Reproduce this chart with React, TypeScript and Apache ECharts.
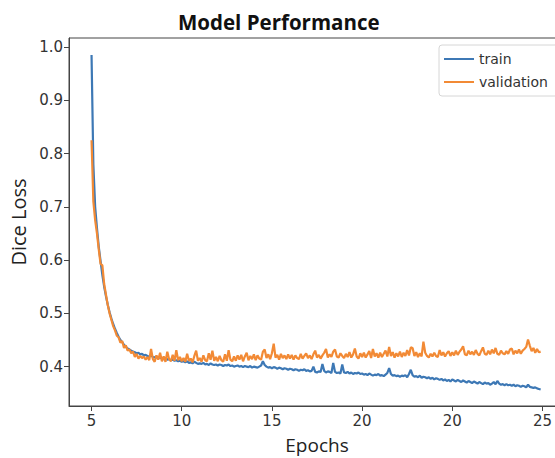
import React, { useEffect, useRef } from "react";
import * as echarts from "echarts";

const xTickValues = [0, 50, 100, 150, 200, 250];
const xTickLabels = ["5", "10", "15", "20", "20", "25"];
const yTickValues = [0.4, 0.5, 0.6, 0.7, 0.8, 0.9, 1.0];

const train = [
  0.985, 0.78, 0.70, 0.66, 0.625, 0.598, 0.572, 0.55, 0.532, 0.516,
  0.502, 0.49, 0.48, 0.471, 0.463, 0.456, 0.45, 0.446, 0.441, 0.437,
  0.434, 0.432, 0.43, 0.428, 0.427, 0.425, 0.426, 0.423, 0.424, 0.421,
  0.422, 0.42, 0.419, 0.421, 0.418, 0.417, 0.419, 0.416, 0.417, 0.415,
  0.414, 0.416, 0.413, 0.414, 0.412, 0.413, 0.411, 0.412, 0.41, 0.411,
  0.409, 0.41, 0.408, 0.41, 0.407, 0.408, 0.406, 0.409, 0.407, 0.405,
  0.406, 0.405, 0.407, 0.404, 0.405, 0.403, 0.406, 0.404, 0.403, 0.404,
  0.402, 0.404, 0.403, 0.401, 0.403, 0.402, 0.404, 0.401, 0.402, 0.40,
  0.401, 0.402, 0.40, 0.401, 0.399, 0.401, 0.40, 0.399, 0.401, 0.398,
  0.40, 0.399, 0.398, 0.40, 0.402, 0.41, 0.403, 0.40, 0.398, 0.399,
  0.397, 0.399, 0.398, 0.396, 0.398, 0.397, 0.395, 0.397, 0.396, 0.394,
  0.396, 0.395, 0.393, 0.395, 0.394, 0.392, 0.394, 0.393, 0.395, 0.392,
  0.393, 0.391, 0.392, 0.40, 0.39, 0.389, 0.391, 0.39, 0.405, 0.392,
  0.389, 0.391, 0.39, 0.388, 0.407, 0.39, 0.388, 0.389, 0.387, 0.404,
  0.389, 0.388, 0.39, 0.387, 0.389, 0.386, 0.388, 0.387, 0.389, 0.386,
  0.387, 0.385, 0.386, 0.384, 0.387, 0.385, 0.383, 0.385, 0.384, 0.386,
  0.383, 0.384, 0.382, 0.385, 0.388, 0.397, 0.386, 0.383, 0.384, 0.382,
  0.383, 0.381, 0.383, 0.382, 0.384, 0.38, 0.386, 0.394, 0.384, 0.381,
  0.382, 0.38, 0.383, 0.379, 0.381, 0.38, 0.378, 0.38, 0.377, 0.379,
  0.376, 0.378, 0.377, 0.375, 0.377, 0.374, 0.376, 0.373, 0.375, 0.372,
  0.376, 0.374, 0.372, 0.375, 0.373, 0.371, 0.374, 0.372, 0.37, 0.373,
  0.371, 0.369, 0.372, 0.37, 0.368, 0.371, 0.369, 0.367, 0.37, 0.368,
  0.369, 0.366, 0.368, 0.371, 0.367, 0.373, 0.368, 0.366, 0.367, 0.365,
  0.367, 0.365, 0.366, 0.364, 0.366, 0.363, 0.365, 0.364, 0.362, 0.364,
  0.363, 0.361, 0.366, 0.362, 0.361, 0.36, 0.361, 0.359, 0.358, 0.357,
];

const validation = [
  0.825, 0.71, 0.675, 0.65, 0.62, 0.593, 0.59, 0.555, 0.535, 0.515,
  0.50, 0.488, 0.476, 0.468, 0.458, 0.455, 0.445, 0.448, 0.435, 0.44,
  0.43, 0.432, 0.425, 0.428, 0.418, 0.424, 0.415, 0.42, 0.416, 0.419,
  0.413, 0.418, 0.412, 0.433, 0.414, 0.409, 0.421, 0.413, 0.426, 0.41,
  0.419, 0.409, 0.428, 0.414, 0.41, 0.422, 0.411, 0.431, 0.412, 0.418,
  0.41, 0.416, 0.409, 0.424, 0.411, 0.415, 0.408, 0.42, 0.43, 0.411,
  0.416, 0.409, 0.421, 0.412, 0.41, 0.425, 0.413, 0.43, 0.411, 0.418,
  0.41, 0.42, 0.412, 0.409, 0.423, 0.411, 0.431, 0.413, 0.41, 0.419,
  0.411, 0.421, 0.413, 0.422, 0.41, 0.419, 0.426, 0.412, 0.42, 0.414,
  0.423, 0.412, 0.421, 0.415, 0.413, 0.428, 0.432, 0.416, 0.423, 0.414,
  0.425, 0.443, 0.417, 0.422, 0.413, 0.424, 0.416, 0.421, 0.414, 0.423,
  0.415, 0.422, 0.413, 0.421, 0.416, 0.414, 0.424, 0.415, 0.42, 0.425,
  0.416, 0.421, 0.414, 0.423, 0.43, 0.417, 0.422, 0.415, 0.421, 0.426,
  0.433, 0.417, 0.423, 0.418, 0.428, 0.432, 0.419, 0.417, 0.425, 0.42,
  0.416, 0.424, 0.418, 0.427, 0.417, 0.423, 0.434, 0.419, 0.415, 0.425,
  0.418, 0.426, 0.417, 0.423, 0.429, 0.416, 0.433, 0.419, 0.425, 0.417,
  0.426, 0.418, 0.424, 0.43, 0.419, 0.437, 0.42, 0.427, 0.417, 0.425,
  0.419, 0.428, 0.418, 0.426, 0.42, 0.431, 0.421, 0.436, 0.435, 0.42,
  0.427, 0.418, 0.425, 0.419, 0.447, 0.426, 0.42, 0.417, 0.424, 0.419,
  0.426, 0.42, 0.418, 0.431, 0.421, 0.427, 0.419, 0.425, 0.429, 0.42,
  0.427, 0.421, 0.43, 0.422, 0.428, 0.432, 0.438, 0.423, 0.421, 0.43,
  0.423, 0.428, 0.422, 0.431, 0.424, 0.421, 0.429, 0.436, 0.424, 0.422,
  0.43, 0.423, 0.432, 0.425, 0.435, 0.424, 0.422, 0.43, 0.425, 0.423,
  0.429, 0.424, 0.432, 0.434, 0.423, 0.43, 0.425, 0.432, 0.424, 0.43,
  0.433, 0.437, 0.451, 0.439, 0.429, 0.435, 0.426, 0.433, 0.427, 0.428,
];

const TRAIN_COLOR = "#3d78b5";
const VAL_COLOR = "#f28a35";

export default function App() {
  const ref = useRef<HTMLDivElement>(null);
  useEffect(() => {
    if (!ref.current) return;
    const chart = echarts.init(ref.current, undefined, { renderer: "svg" });
    const tickFont = "DejaVu Sans";
    chart.setOption({
      animation: false,
      backgroundColor: "#ffffff",
      title: {
        text: "Model Performance",
        left: 173,
        top: 6,
        textStyle: {
          fontFamily: "Open Sans",
          fontWeight: "bold",
          fontSize: 20.5,
          color: "#111",
        },
      },
      legend: {
        orient: "vertical",
        left: 439,
        top: 45,
        data: ["train", "validation"],
        icon: "path://M0,0 L30,0 L30,2 L0,2 Z",
        itemWidth: 30,
        itemHeight: 2,
        itemGap: 9,
        padding: [7, 10, 7, 5],
        borderColor: "#d6d6d6",
        borderWidth: 1,
        borderRadius: 3,
        textStyle: { fontFamily: tickFont, fontSize: 14, color: "#333" },
      },
      grid: {
        left: 69,
        top: 38,
        width: 496,
        height: 368,
        show: true,
        borderColor: "#444",
        borderWidth: 1,
        containLabel: false,
        outerBoundsMode: "none",
      },
      xAxis: {
        type: "value",
        min: -12.5,
        max: 262.5,
        name: "Epochs",
        nameLocation: "middle",
        nameGap: 29,
        nameTextStyle: { fontFamily: "Open Sans", fontSize: 19, color: "#222" },
        axisLine: { show: true, onZero: false, lineStyle: { color: "#444" } },
        axisTick: {
          show: true,
          length: 5,
          customValues: xTickValues,
          lineStyle: { color: "#444" },
        },
        axisLabel: {
          customValues: xTickValues,
          fontFamily: tickFont,
          fontSize: 15,
          color: "#333",
          margin: 7,
          formatter: (v: number) => {
            const idx = xTickValues.indexOf(v);
            return idx >= 0 ? xTickLabels[idx] : "";
          },
        },
        splitLine: { show: false },
      },
      yAxis: {
        type: "value",
        min: 0.326,
        max: 1.017,
        name: "Dice Loss",
        nameLocation: "middle",
        nameGap: 38,
        nameTextStyle: { fontFamily: "Open Sans", fontSize: 20, color: "#222" },
        axisLine: { show: true, onZero: false, lineStyle: { color: "#444" } },
        axisTick: {
          show: true,
          length: 5,
          customValues: yTickValues,
          lineStyle: { color: "#444" },
        },
        axisLabel: {
          customValues: yTickValues,
          fontFamily: tickFont,
          fontSize: 15,
          color: "#333",
          margin: 6,
          formatter: (v: number) => v.toFixed(1),
        },
        splitLine: { show: false },
      },
      series: [
        {
          name: "train",
          type: "line",
          data: train.map((v, i) => [i, v]),
          showSymbol: false,
          symbol: "none",
          lineStyle: { color: TRAIN_COLOR, width: 2.2 },
          itemStyle: { color: TRAIN_COLOR },
          z: 2,
        },
        {
          name: "validation",
          type: "line",
          data: validation.map((v, i) => [i, v]),
          showSymbol: false,
          symbol: "none",
          lineStyle: { color: VAL_COLOR, width: 2.2 },
          itemStyle: { color: VAL_COLOR },
          z: 3,
        },
      ],
    });
    return () => chart.dispose();
  }, []);
  return (
    <div
      ref={ref}
      style={{ position: "fixed", left: 0, top: 0, width: 555, height: 458 }}
    />
  );
}
